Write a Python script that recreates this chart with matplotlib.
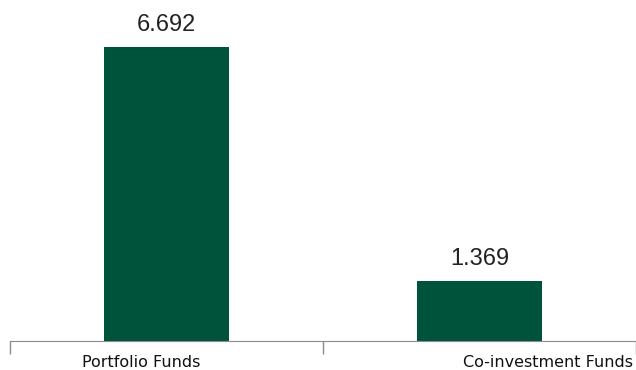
import matplotlib
matplotlib.use("Agg")
import matplotlib.pyplot as plt

categories = ["Portfolio Funds", "Co-investment Funds"]
values = [6.692, 1.369]
value_labels = ["6.692", "1.369"]

fig = plt.figure(figsize=(6.36, 3.70), dpi=100)
ax = fig.add_axes([10/636, 29/370, 626/636, 341/370])

x = range(len(categories))
ax.bar(x, values, width=0.4, color="#00533b")
ax.set_xlim(-0.5, 1.5)
ax.set_ylim(0, 7.76)

for xi, v, s in zip(x, values, value_labels):
    ax.annotate(s, (xi, v), xytext=(0, 8), textcoords="offset points",
                ha="center", va="bottom", fontsize=17, family="Liberation Sans",
                color="#222222")

# category labels sit off-centre in the original
label_x = [-0.08, 1.22]
for lx, c in zip(label_x, categories):
    ax.text(lx, -0.04, c, transform=ax.get_xaxis_transform(), ha="center",
            va="top", fontsize=11.5, family="DejaVu Sans", color="#111111")

for s in ["top", "right", "left"]:
    ax.spines[s].set_visible(False)
ax.spines["bottom"].set_color("#8c8c8c")
ax.set_yticks([])
ax.set_xticks([-0.5, 0.5, 1.5])
ax.set_xticklabels([])
ax.tick_params(axis="x", length=9, color="#8c8c8c", width=1)

fig.savefig("out.png", dpi=100)
